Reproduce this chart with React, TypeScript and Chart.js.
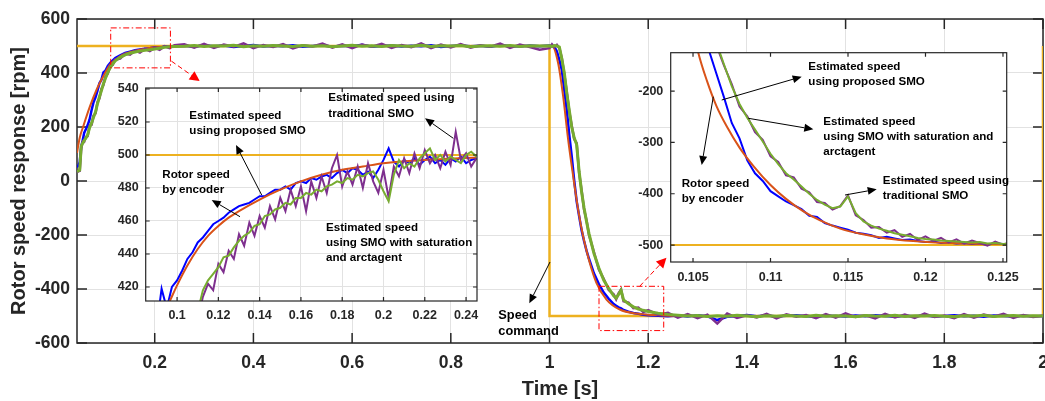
import React, { useEffect, useRef } from "react";
import { Chart, registerables } from "chart.js";

Chart.register(...registerables);

/* ================= MAIN CHART DATA ================= */
// time segments [s]
const riseT = [0.0425, 0.045, 0.048, 0.051, 0.054, 0.057, 0.06, 0.064, 0.068, 0.072, 0.076, 0.08, 0.084, 0.088, 0.092, 0.096, 0.1, 0.105, 0.11, 0.115, 0.12, 0.13, 0.14, 0.15, 0.16, 0.17, 0.18, 0.19, 0.2, 0.21, 0.22, 0.23, 0.24];
const holdHighT = [0.26, 0.28, 0.3, 0.32, 0.34, 0.36, 0.38, 0.4, 0.42, 0.44, 0.46, 0.48, 0.5, 0.52, 0.54, 0.56, 0.58, 0.6, 0.62, 0.64, 0.66, 0.68, 0.7, 0.72, 0.74, 0.76, 0.78, 0.8, 0.82, 0.84, 0.86, 0.88, 0.9, 0.92, 0.94, 0.96, 0.98];
const fallT = [1.0, 1.005, 1.01, 1.015, 1.02, 1.025, 1.03, 1.035, 1.04, 1.045, 1.05, 1.055, 1.06, 1.065, 1.07, 1.075, 1.08, 1.09, 1.1, 1.11, 1.12, 1.13, 1.135, 1.14, 1.145, 1.15, 1.16, 1.17, 1.18, 1.19, 1.2, 1.22, 1.24];
const holdLowT = [1.26, 1.28, 1.3, 1.32, 1.34, 1.36, 1.38, 1.4, 1.42, 1.44, 1.46, 1.48, 1.5, 1.52, 1.54, 1.56, 1.58, 1.6, 1.62, 1.64, 1.66, 1.68, 1.7, 1.72, 1.74, 1.76, 1.78, 1.8, 1.82, 1.84, 1.86, 1.88, 1.9, 1.92, 1.94, 1.96, 1.98, 2.0];

// Estimated speed using proposed SMO (blue)
const blueRise = [52, 56, 70, 128, 150, 178, 190, 206, 228, 262, 292, 310, 335, 362, 375, 402, 408, 426, 438, 447, 455, 465, 474, 479, 484, 487, 490, 492, 495, 494, 498, 497, 499];
const blueHoldHigh = [501, 497, 503, 499, 502, 496, 500, 504, 498, 501, 499, 503, 497, 500, 502, 498, 501, 499, 505, 497, 500, 502, 498, 501, 499, 503, 496, 500, 502, 499, 501, 497, 503, 500, 498, 502, 499];
const blueFall = [502, 499, 497, 480, 448, 410, 335, 262, 172, 92, 2, -75, -130, -182, -222, -258, -288, -342, -382, -413, -436, -456, -462, -468, -472, -478, -484, -489, -492, -495, -497, -499, -501];
const blueHoldLow = [-498, -502, -497, -501, -515, -503, -500, -496, -501, -498, -502, -499, -497, -501, -503, -499, -500, -502, -498, -501, -497, -500, -503, -499, -501, -498, -502, -500, -497, -501, -499, -503, -498, -500, -502, -499, -501, -500];

// Estimated speed using SMO with saturation and arctangent (green)
const greenRise = [35, 37, 40, 128, 140, 150, 158, 170, 198, 214, 236, 255, 286, 312, 335, 360, 380, 402, 421, 434, 445, 458, 467, 473, 478, 481, 484, 486, 489, 492, 495, 497, 498];
const greenHoldHigh = [499, 502, 498, 501, 500, 503, 497, 501, 499, 502, 500, 498, 502, 499, 501, 497, 500, 503, 499, 501, 498, 502, 500, 499, 503, 498, 501, 500, 502, 497, 500, 501, 499, 502, 498, 501, 500];
const greenFall = [501, 498, 502, 500, 496, 452, 400, 325, 262, 200, 160, 135, 35, -40, -100, -150, -195, -268, -322, -368, -398, -425, -434, -420, -405, -440, -455, -466, -474, -479, -483, -490, -494];
const greenHoldLow = [-497, -500, -498, -502, -499, -501, -497, -500, -503, -499, -501, -498, -500, -502, -497, -501, -499, -500, -503, -498, -500, -501, -497, -502, -499, -500, -498, -501, -503, -499, -500, -497, -502, -500, -498, -501, -499, -500];

// Estimated speed using traditional SMO (purple)
const purpleRise = [32, 36, 38, 120, 146, 145, 162, 166, 205, 208, 242, 250, 292, 306, 341, 355, 385, 398, 426, 430, 450, 453, 472, 468, 483, 476, 489, 481, 493, 486, 499, 492, 503];
const purpleHoldHigh = [506, 494, 508, 493, 505, 497, 510, 492, 504, 496, 507, 491, 503, 498, 509, 494, 506, 492, 505, 497, 508, 493, 504, 496, 510, 492, 505, 495, 507, 494, 503, 497, 509, 493, 505, 496, 486];
const purpleFall = [492, 506, 495, 504, 492, 455, 395, 330, 258, 205, 155, 140, 30, -35, -106, -145, -200, -263, -328, -363, -404, -420, -438, -416, -402, -445, -450, -471, -469, -485, -478, -495, -488];
const purpleHoldLow = [-506, -493, -508, -495, -528, -491, -507, -497, -505, -492, -509, -494, -503, -496, -508, -493, -506, -490, -504, -497, -509, -492, -505, -495, -507, -491, -504, -498, -508, -493, -506, -495, -503, -492, -507, -496, -504, -499];

// Rotor speed by encoder (red)
const mainRedT = [0.0425, 0.048, 0.0553, 0.0689, 0.0824, 0.0959, 0.1094, 0.1297, 0.157, 0.1898, 0.23, 0.28, 0.35, 1.005, 1.0173, 1.0276, 1.0377, 1.0479, 1.058, 1.068, 1.0815, 1.095, 1.1155, 1.1425, 1.176, 1.23, 1.3, 2.0];
const mainRed = [104, 160, 203, 277, 339, 388, 431, 462, 481, 493, 498, 500, 500, 500, 438, 314, 154, 18, -106, -204, -303, -377, -439, -476, -491, -498, -500, -500];

// Speed command (orange)
const commandT = [0.0425, 1.0, 1.0, 2.0, 2.0];
const commandV = [500, 500, -500, -500, 500];

const mainXRange = [0.0425, 2.0];
const mainYRange = [-600, 600];
const mainXTicks = [0.2, 0.4, 0.6, 0.8, 1, 1.2, 1.4, 1.6, 1.8, 2];
const mainYTicks = [-600, -400, -200, 0, 200, 400, 600];

// zoom boxes (data coordinates) and their red arrows
const zoomBox1X = [0.1108, 0.2318];
const zoomBox1Y = [419, 567];
const zoomBox2X = [1.1003, 1.2314];
const zoomBox2Y = [-554, -390];
const zoomArrow1 = [0.2338, 444, 0.2912, 370];
const zoomArrow2 = [1.1827, -390, 1.2369, -284];

/* ================= INSET 1 DATA (start-up) ================= */
const inset1T = [0.09, 0.0925, 0.095, 0.0975, 0.1, 0.1025, 0.105, 0.1075, 0.11, 0.1125, 0.115, 0.1175, 0.12, 0.1225, 0.125, 0.1275, 0.13, 0.1325, 0.135, 0.1375, 0.14, 0.1425, 0.145, 0.1475, 0.15, 0.1525, 0.155, 0.1575, 0.16, 0.1625, 0.165, 0.1675, 0.17, 0.1725, 0.175, 0.1775, 0.18, 0.1825, 0.185, 0.1875, 0.19, 0.1925, 0.195, 0.1975, 0.2, 0.2025, 0.205, 0.2075, 0.21, 0.2125, 0.215, 0.2175, 0.22, 0.2225, 0.225, 0.2275, 0.23, 0.2325, 0.235, 0.2375, 0.24, 0.2425, 0.245];
const inset1Blue = [395, 419, 407, 420, 424, 430, 437, 441, 447, 450, 454, 458, 460, 462, 465, 467, 469, 470, 471, 473, 475, 475, 477, 479, 479, 481, 479, 483, 484, 483, 486, 485, 487, 488, 486, 489, 491, 489, 492, 491, 488, 490, 486, 491, 497, 504, 496, 493, 497, 495, 498, 494, 497, 499, 495, 497, 494, 498, 496, 499, 495, 497, 498];
const inset1Green = [null, null, null, null, null, null, null, null, 405, 418, 424, 428, 432, 438, 439, 444, 448, 451, 453, 457, 458, 463, 464, 467, 468, 471, 470, 474, 474, 477, 476, 479, 478, 481, 482, 484, 483, 486, 485, 488, 487, 489, 490, 485, 478, 472, 488, 497, 492, 495, 493, 498, 501, 504, 497, 500, 496, 499, 497, 495, 500, 502, 499];
const inset1Purple = [null, null, null, null, null, null, null, null, 400, 414, 422, 418, 434, 429, 442, 437, 452, 445, 459, 451, 463, 456, 469, 461, 474, 466, 479, 469, 481, 466, 484, 474, 487, 477, 492, 500, 481, 490, 482, 493, 480, 495, 484, 477, 491, 474, 493, 487, 498, 489, 501, 492, 503, 495, 500, 492, 502, 494, 514, 497, 501, 493, 498];
const inset1RedT = [0.094, 0.0963, 0.1, 0.105, 0.11, 0.115, 0.12, 0.125, 0.13, 0.14, 0.15, 0.16, 0.17, 0.18, 0.19, 0.2, 0.22, 0.245];
const inset1Red = [405, 411, 421, 433, 443, 451, 457, 462, 466, 473, 479, 484, 488, 491, 493, 495, 497, 498.5];
const inset1XRange = [0.0848, 0.2453];
const inset1YRange = [411.5, 540.6];
const inset1Command = [500, 500];
const inset1XTicks = [0.1, 0.12, 0.14, 0.16, 0.18, 0.2, 0.22, 0.24];
const inset1YTicks = [420, 440, 460, 480, 500, 520, 540];

/* ================= INSET 2 DATA (deceleration) ================= */
const inset2T = [0.105, 0.1055, 0.106, 0.1065, 0.107, 0.1075, 0.108, 0.1085, 0.109, 0.1095, 0.11, 0.1105, 0.111, 0.1115, 0.112, 0.1125, 0.113, 0.1135, 0.114, 0.1145, 0.115, 0.1155, 0.116, 0.1165, 0.117, 0.1175, 0.118, 0.1185, 0.119, 0.1195, 0.12, 0.1205, 0.121, 0.1215, 0.122, 0.1225, 0.123, 0.1235, 0.124, 0.1245, 0.125, 0.1255];
const inset2Blue = [-20, -60, -118, -165, -212, -262, -292, -335, -360, -375, -395, -405, -415, -422, -430, -443, -445, -457, -462, -466, -470, -476, -478, -481, -486, -484, -487, -490, -489, -492, -494, -493, -496, -495, -497, -496, -498, -497, -499, -497, -498, -499];
const inset2Green = [40, -10, -60, -105, -148, -190, -225, -252, -275, -298, -322, -342, -360, -372, -386, -400, -412, -421, -428, -425, -405, -438, -454, -462, -468, -472, -477, -480, -483, -486, -488, -489, -491, -492, -493, -494, -495, -494, -497, -496, -498, -497];
const inset2Purple = [35, -15, -55, -110, -150, -186, -230, -249, -280, -295, -327, -338, -364, -368, -390, -397, -416, -418, -431, -424, -403, -442, -451, -466, -465, -476, -471, -484, -478, -490, -483, -492, -486, -495, -489, -497, -491, -496, -501, -493, -499, -494];
const inset2RedT = [0.1048, 0.10534, 0.1059, 0.1065, 0.1072, 0.108, 0.1089, 0.11, 0.111, 0.1121, 0.1132, 0.1145, 0.1158, 0.1175, 0.1192, 0.1212, 0.1233, 0.1255];
const inset2Red = [-50, -125, -180, -228, -270, -310, -346, -383, -410, -434, -452, -468, -478, -487, -492, -495.5, -497.4, -498];
const inset2XRange = [0.10356, 0.12524];
const inset2YRange = [-533, -125];
const inset2Command = [-500, -500];
const inset2XTicks = [0.105, 0.11, 0.115, 0.12, 0.125];
const inset2YTicks = [-500, -400, -300, -200];

/* ================= ANNOTATIONS (page layout) ================= */
const annotations = [
  { x: 328.3, y: 92.7, size: 11.6, lh: 15.5, lines: ["Estimated speed using", "traditional SMO"] },
  { x: 189.3, y: 110, size: 11.6, lh: 15, lines: ["Estimated speed", "using proposed SMO"] },
  { x: 162.3, y: 169.3, size: 11.6, lh: 15.5, lines: ["Rotor speed", "by encoder"] },
  { x: 326, y: 222.7, size: 11.6, lh: 15, lines: ["Estimated speed", "using SMO with saturation", "and arctagent"] },
  { x: 808.3, y: 61.7, size: 11.6, lh: 15, lines: ["Estimated speed", "using proposed SMO"] },
  { x: 823.3, y: 116, size: 11.6, lh: 15, lines: ["Estimated speed", "using SMO with saturation and", "arctagent"] },
  { x: 681.7, y: 178.3, size: 11.6, lh: 15, lines: ["Rotor speed", "by encoder"] },
  { x: 882.7, y: 175, size: 11.6, lh: 15, lines: ["Estimated speed using", "traditional SMO"] },
  { x: 498.3, y: 310, size: 12.8, lh: 16, lines: ["Speed", "command"] },
];
const blackArrows = [
  [453.3, 138.3, 425, 118.3],
  [261.7, 195, 236, 145],
  [240, 216.7, 211.7, 200],
  [721.7, 100, 801.7, 76.7],
  [748.3, 118.3, 813.3, 129.3],
  [713.3, 96.7, 701.7, 165],
  [845, 195, 876.7, 189.3],
  [550, 262, 529.3, 303.3],
];

/* ================= STYLE ================= */
const FONT = '"Liberation Sans", Arial, Helvetica, sans-serif';
const AXIS = "#262626";
const GRID = "#E2E2E2";
const C_CMD = "#EDB120";
const C_RED = "#D95319";
const C_BLUE = "#0000FF";
const C_PUR = "#7E2F8E";
const C_GRN = "#77AC30";

const pts = (t: number[], v: (number | null)[]) => t.map((x, i) => ({ x, y: v[i] }));
const fmt = (v: number) => String(Number(Number(v).toFixed(4)));

function arrowHeadPts(x0: number, y0: number, x1: number, y1: number, len: number, half: number) {
  const a = Math.atan2(y1 - y0, x1 - x0);
  const bx = x1 - len * Math.cos(a);
  const by = y1 - len * Math.sin(a);
  return {
    bx, by,
    p: [
      [x1, y1],
      [bx + half * Math.sin(a), by - half * Math.cos(a)],
      [bx - half * Math.sin(a), by + half * Math.cos(a)],
    ],
  };
}

function drawFrame(chart: any, opts: any) {
  const { ctx, chartArea: a, scales } = chart;
  ctx.save();
  ctx.strokeStyle = opts.color;
  ctx.lineWidth = opts.lw;
  const L = opts.len;
  ctx.beginPath();
  scales.x.ticks.forEach((t: any) => {
    const x = scales.x.getPixelForValue(t.value);
    ctx.moveTo(x, a.bottom); ctx.lineTo(x, a.bottom - L);
    ctx.moveTo(x, a.top); ctx.lineTo(x, a.top + L);
  });
  scales.y.ticks.forEach((t: any) => {
    const y = scales.y.getPixelForValue(t.value);
    ctx.moveTo(a.left, y); ctx.lineTo(a.left + L, y);
    ctx.moveTo(a.right, y); ctx.lineTo(a.right - L, y);
  });
  ctx.stroke();
  ctx.strokeRect(a.left, a.top, a.right - a.left, a.bottom - a.top);
  ctx.restore();
}

const framePlugin = {
  id: "frame",
  beforeDraw(chart: any, _a: any, opts: any) {
    if (!opts.fill) return;
    const { ctx, chartArea: a } = chart;
    ctx.save();
    ctx.fillStyle = "#FFFFFF";
    ctx.fillRect(a.left, a.top, a.right - a.left, a.bottom - a.top);
    ctx.restore();
  },
  beforeDatasetsDraw(chart: any, _a: any, opts: any) {
    if (opts.under) drawFrame(chart, opts);
  },
  afterDatasetsDraw(chart: any, _a: any, opts: any) {
    if (!opts.under) drawFrame(chart, opts);
  },
};

const zoomPlugin = {
  id: "zoomBoxes",
  afterDatasetsDraw(chart: any) {
    const { ctx, scales } = chart;
    const X = (v: number) => scales.x.getPixelForValue(v);
    const Y = (v: number) => scales.y.getPixelForValue(v);
    ctx.save();
    ctx.strokeStyle = "#FF0000";
    ctx.fillStyle = "#FF0000";
    ctx.lineWidth = 1;
    ctx.setLineDash([6, 2.5, 1.5, 2.5]);
    [[zoomBox1X, zoomBox1Y], [zoomBox2X, zoomBox2Y]].forEach(([bx, by]) => {
      const x0 = X(bx[0]), x1 = X(bx[1]), y0 = Y(by[1]), y1 = Y(by[0]);
      ctx.strokeRect(x0, y0, x1 - x0, y1 - y0);
    });
    [zoomArrow1, zoomArrow2].forEach((ar) => {
      const x0 = X(ar[0]), y0 = Y(ar[1]), x1 = X(ar[2]), y1 = Y(ar[3]);
      const h = arrowHeadPts(x0, y0, x1, y1, 10, 5);
      ctx.setLineDash([5, 3]);
      ctx.beginPath(); ctx.moveTo(x0, y0); ctx.lineTo(h.bx, h.by); ctx.stroke();
      ctx.setLineDash([]);
      ctx.beginPath();
      ctx.moveTo(h.p[0][0], h.p[0][1]); ctx.lineTo(h.p[1][0], h.p[1][1]); ctx.lineTo(h.p[2][0], h.p[2][1]);
      ctx.closePath(); ctx.fill();
    });
    ctx.restore();
  },
};

function axisCfg(a: any, isX: boolean) {
  return {
    type: "linear",
    min: a.range[0],
    max: a.range[1],
    afterBuildTicks: (s: any) => { s.ticks = a.ticks.map((v: number) => ({ value: v })); },
    afterFit: (s: any) => {
      if (isX) { s.height = a.size; s.paddingLeft = 0; s.paddingRight = 0; }
      else { s.width = a.size; s.paddingTop = 0; s.paddingBottom = 0; }
    },
    grid: { display: a.grid, color: GRID, lineWidth: 1, drawTicks: false },
    border: { display: false },
    ticks: {
      autoSkip: false, maxRotation: 0, minRotation: 0, padding: a.pad, color: AXIS,
      font: { family: FONT, size: a.font, weight: "bold" },
      callback: (v: number) => fmt(v),
    },
    title: a.title
      ? { display: true, text: a.title, color: AXIS, font: { family: FONT, size: a.titleSize, weight: "bold" }, padding: a.titlePad }
      : { display: false },
  };
}

function lineDs(data: any[], color: string, width: number, order: number, smooth = false) {
  return {
    data, borderColor: color, backgroundColor: color, borderWidth: width, pointRadius: 0,
    fill: false, tension: 0, order, spanGaps: false,
    cubicInterpolationMode: smooth ? "monotone" : "default",
  };
}

function build(canvas: HTMLCanvasElement, cfg: any) {
  return new Chart(canvas as any, {
    type: "line",
    data: { datasets: cfg.datasets },
    options: {
      animation: false, responsive: false, maintainAspectRatio: false, devicePixelRatio: 1, events: [],
      layout: { padding: cfg.padding, autoPadding: false },
      plugins: { legend: { display: false }, tooltip: { enabled: false }, frame: cfg.frame } as any,
      scales: { x: axisCfg(cfg.x, true), y: axisCfg(cfg.y, false) } as any,
    },
    plugins: [framePlugin, ...(cfg.plugins || [])],
  } as any);
}

export default function App() {
  const mainRef = useRef<HTMLCanvasElement>(null);
  const in1Ref = useRef<HTMLCanvasElement>(null);
  const in2Ref = useRef<HTMLCanvasElement>(null);

  useEffect(() => {
    const mainT = [...riseT, ...holdHighT, ...fallT, ...holdLowT];
    const mainBlue = [...blueRise, ...blueHoldHigh, ...blueFall, ...blueHoldLow];
    const mainGreen = [...greenRise, ...greenHoldHigh, ...greenFall, ...greenHoldLow];
    const mainPurple = [...purpleRise, ...purpleHoldHigh, ...purpleFall, ...purpleHoldLow];

    const main = build(mainRef.current!, {
      datasets: [
        lineDs(pts(mainT, mainGreen), C_GRN, 3, 0),
        lineDs(pts(mainT, mainPurple), C_PUR, 2.5, 1),
        lineDs(pts(mainRedT, mainRed), C_RED, 2, 2, true),
        lineDs(pts(mainT, mainBlue), C_BLUE, 2.5, 3),
        lineDs(pts(commandT, commandV), C_CMD, 2.5, 4),
      ],
      padding: { left: 0, right: 2, top: 19, bottom: 0 },
      frame: { fill: false, under: true, lw: 1.5, len: 10, color: AXIS },
      x: { range: mainXRange, ticks: mainXTicks, grid: true, font: 17.5, pad: 10, size: 58, title: "Time [s]", titleSize: 20, titlePad: { top: 0, bottom: 0 } },
      y: { range: mainYRange, ticks: mainYTicks, grid: true, font: 17.5, pad: 7, size: 77, title: "Rotor speed response [rpm]", titleSize: 20, titlePad: { top: 7.5, bottom: 0 } },
      plugins: [zoomPlugin],
    });

    const in1 = build(in1Ref.current!, {
      datasets: [
        lineDs(pts(inset1T, inset1Green), C_GRN, 2, 0),
        lineDs(pts(inset1T, inset1Purple), C_PUR, 2, 1),
        lineDs(pts(inset1RedT, inset1Red), C_RED, 2, 2, true),
        lineDs(pts(inset1T, inset1Blue), C_BLUE, 2, 3),
        lineDs(pts(inset1XRange, inset1Command), C_CMD, 2, 4),
      ],
      padding: { left: 0, right: 8, top: 10, bottom: 0 },
      frame: { fill: true, under: false, lw: 1.2, len: 4, color: AXIS },
      x: { range: inset1XRange, ticks: inset1XTicks, grid: true, font: 12.5, pad: 7.5, size: 32 },
      y: { range: inset1YRange, ticks: inset1YTicks, grid: true, font: 12.5, pad: 7, size: 45.7 },
    });

    const in2 = build(in2Ref.current!, {
      datasets: [
        lineDs(pts(inset2T, inset2Green), C_GRN, 2, 0),
        lineDs(pts(inset2T, inset2Purple), C_PUR, 2, 1),
        lineDs(pts(inset2RedT, inset2Red), C_RED, 2, 2, true),
        lineDs(pts(inset2T, inset2Blue), C_BLUE, 2, 3),
        lineDs(pts(inset2XRange, inset2Command), C_CMD, 2, 4),
      ],
      padding: { left: 0, right: 33.3, top: 10.7, bottom: 0 },
      frame: { fill: true, under: false, lw: 1.2, len: 4, color: AXIS },
      x: { range: inset2XRange, ticks: inset2XTicks, grid: false, font: 12.5, pad: 8, size: 35 },
      y: { range: inset2YRange, ticks: inset2YTicks, grid: false, font: 12.5, pad: 7.4, size: 50.7 },
    });

    return () => { main.destroy(); in1.destroy(); in2.destroy(); };
  }, []);

  return (
    <div style={{ position: "fixed", left: 0, top: 0, width: 1045, height: 401, background: "#FFFFFF", overflow: "hidden" }}>
      <canvas ref={mainRef} width={1045} height={401} style={{ position: "absolute", left: 0, top: 0, width: 1045, height: 401 }} />
      <canvas ref={in1Ref} width={385} height={255} style={{ position: "absolute", left: 100, top: 78, width: 385, height: 255 }} />
      <canvas ref={in2Ref} width={420} height={255} style={{ position: "absolute", left: 620, top: 42, width: 420, height: 255 }} />
      <svg width={1045} height={401} style={{ position: "absolute", left: 0, top: 0, pointerEvents: "none" }}>
        {blackArrows.map(([x0, y0, x1, y1], i) => {
          const h = arrowHeadPts(x0, y0, x1, y1, 9, 4);
          return (
            <g key={i}>
              <line x1={x0} y1={y0} x2={h.bx} y2={h.by} stroke="#000" strokeWidth={1} />
              <polygon points={h.p.map((q) => q.join(",")).join(" ")} fill="#000" />
            </g>
          );
        })}
      </svg>
      {annotations.map((a, i) => {
        const half = (a.lh - a.size * 1.117) / 2;
        const capOffset = half + a.size * (0.905 - 0.716);
        return (
          <div
            key={i}
            style={{
              position: "absolute", left: a.x, top: a.y - capOffset, color: "#000",
              fontFamily: FONT, fontWeight: "bold", fontSize: a.size, lineHeight: `${a.lh}px`, whiteSpace: "nowrap",
            }}
          >
            {a.lines.map((l, j) => (<div key={j}>{l}</div>))}
          </div>
        );
      })}
    </div>
  );
}
